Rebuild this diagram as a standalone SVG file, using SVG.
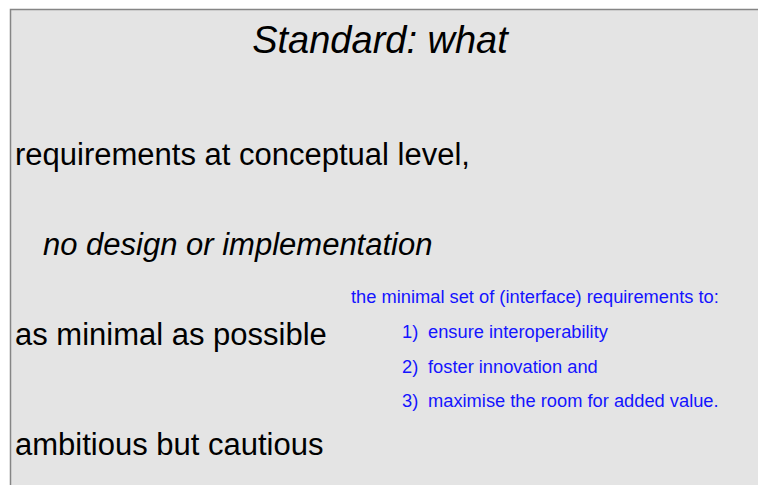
<svg xmlns="http://www.w3.org/2000/svg" width="758" height="485" viewBox="0 0 758 485">
<style>
.t{font-family:"Liberation Sans",Arial,sans-serif;fill:#000}
.big{font-size:31px}
.it{font-style:italic}
.b{font-family:"Liberation Sans",Arial,sans-serif;font-size:18.3px;fill:#1414ff}
</style>
<rect x="0" y="0" width="758" height="485" fill="#ffffff"/>
<rect x="10.5" y="9.5" width="760" height="490" fill="#e4e4e4" stroke="#858585" stroke-width="1.5"/>
<g id="title"><text class="t it" x="380" y="53" font-size="38" text-anchor="middle">Standard: what</text></g>
<g id="body">
<text class="t big" x="15" y="165">requirements at conceptual level,</text>
<text class="t big it" x="43" y="255">no design or implementation</text>
<text class="t big" x="15" y="345">as minimal as possible</text>
<text class="t big" x="15" y="455">ambitious but cautious</text>
</g>
<g id="note">
<text class="b" x="351" y="303">the minimal set of (interface) requirements to:</text>
<text class="b" y="338"><tspan x="402">1)</tspan><tspan x="428">ensure interoperability</tspan></text>
<text class="b" y="373"><tspan x="402">2)</tspan><tspan x="428">foster innovation and</tspan></text>
<text class="b" y="407"><tspan x="402">3)</tspan><tspan x="428">maximise the room for added value.</tspan></text>
</g>
</svg>
